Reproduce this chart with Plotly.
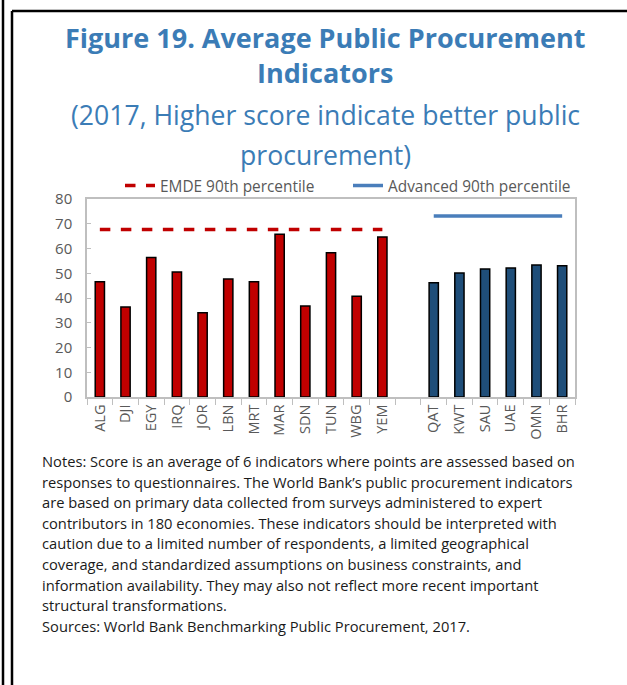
import plotly.graph_objects as go

# data
emde_codes = ["ALG", "DJI", "EGY", "IRQ", "JOR", "LBN", "MRT", "MAR", "SDN", "TUN", "WBG", "YEM"]
emde_scores = [46.6, 36.4, 56.4, 50.5, 34.0, 47.7, 46.6, 65.8, 36.8, 58.3, 40.7, 64.6]
adv_codes = ["QAT", "KWT", "SAU", "UAE", "OMN", "BHR"]
adv_scores = [46.2, 50.1, 51.7, 52.1, 53.3, 53.0]
emde_p90 = 67.7
adv_p90 = 73.1

title_lines = ["<b>Figure 19. Average Public Procurement</b>", "<b>Indicators</b>",
               "(2017, Higher score indicate better public", "procurement)"]
note_lines = [
    "Notes: Score is an average of 6 indicators where points are assessed based on",
    "responses to questionnaires. The World Bank\u2019s public procurement indicators",
    "are based on primary data collected from surveys administered to expert",
    "contributors in 180 economies. These indicators should be interpreted with",
    "caution due to a limited number of respondents, a limited geographical",
    "coverage, and standardized assumptions on business constraints, and",
    "information availability. They may also not reflect more recent important",
    "structural transformations.",
    "Sources: World Bank Benchmarking Public Procurement, 2017.",
]

RED = "#C00000"
NAVY = "#1F4E79"
STEEL = "#4A7EBB"
TITLE_BLUE = "#3B7CB6"
GRAY = "#595959"
AXIS = "#BFBFBF"
FONT = "Open Sans"

# plot box in pixels (from the reference)
L, R, T, B = 87, 575, 199, 397
W, H = R - L, B - T
px = lambda v: (v - L) / W
py = lambda v: (B - v) / H

gap = " "
cats = emde_codes + [gap] + adv_codes
vals = emde_scores + [None] + adv_scores
colors = [RED] * len(emde_codes) + ["rgba(0,0,0,0)"] + [NAVY] * len(adv_codes)

fig = go.Figure()
fig.add_trace(go.Bar(
    x=cats, y=vals, width=0.36,
    marker=dict(color=colors, line=dict(color="black", width=1.5)),
    showlegend=False, hoverinfo="x+y",
))
fig.add_trace(go.Scatter(
    x=[emde_codes[0], emde_codes[-1]], y=[emde_p90, emde_p90],
    mode="lines", name="EMDE 90th percentile",
    line=dict(color=RED, width=3.5, dash="dash"),
))
fig.add_trace(go.Scatter(
    x=[adv_codes[0], adv_codes[-1]], y=[adv_p90, adv_p90],
    mode="lines", name="Advanced 90th percentile",
    line=dict(color=STEEL, width=3.5),
))

fig.update_layout(
    width=627, height=685,
    margin=dict(l=L, r=627 - R, t=T, b=685 - B, autoexpand=False),
    plot_bgcolor="white", paper_bgcolor="white",
    font=dict(family=FONT, size=14, color=GRAY),
    legend=dict(
        orientation="h", x=px(120), xanchor="left", y=py(169), yanchor="top",
        entrywidth=183, entrywidthmode="pixels",
        font=dict(size=15.4, color=GRAY), bgcolor="rgba(0,0,0,0)",
        itemwidth=30,
    ),
)
fig.update_xaxes(
    type="category", categoryorder="array", categoryarray=cats,
    range=[-0.5, len(cats) - 0.5],
    showline=True, linecolor=AXIS, linewidth=1.5, mirror=True,
    ticks="outside", tickson="boundaries", ticklen=6, tickcolor=AXIS,
    tickangle=-90, tickfont=dict(size=14.5, color=GRAY), showgrid=False,
)
fig.update_yaxes(
    range=[0, 80], dtick=10,
    showline=True, linecolor=AXIS, linewidth=1.5, mirror=True,
    ticks="inside", ticklen=4, tickcolor=AXIS, ticklabelstandoff=10,
    tickfont=dict(size=15, color=GRAY), showgrid=False, zeroline=False,
)

# title block
title_y = [37, 73, 115, 155]
for i, (line, yc) in enumerate(zip(title_lines, title_y)):
    fig.add_annotation(
        text=line, xref="paper", yref="paper", x=px(325), y=py(yc),
        xanchor="center", yanchor="middle", showarrow=False,
        font=dict(family=FONT, size=27 if i < 2 else 26.6, color=TITLE_BLUE),
    )

# notes
for i, line in enumerate(note_lines):
    fig.add_annotation(
        text=line, xref="paper", yref="paper", x=px(40), y=py(461 + i * 20.6),
        xanchor="left", yanchor="middle", showarrow=False,
        font=dict(family=FONT, size=14.7, color="#1A1A1A"),
    )

# page frame lines
frame = dict(type="line", xref="paper", yref="paper", line=dict(color="black", width=2.5))
fig.add_shape(x0=px(3), x1=px(3), y0=py(0), y1=py(685), **frame)
fig.add_shape(x0=px(12), x1=px(12), y0=py(11), y1=py(685), **frame)
fig.add_shape(x0=px(12), x1=px(627), y0=py(11), y1=py(11), **frame)

# drop the browser's default body margin so the figure sits at the page corner
fig.write_html("out.html", config={"displayModeBar": False},
               post_script="document.body.style.margin='0';")
